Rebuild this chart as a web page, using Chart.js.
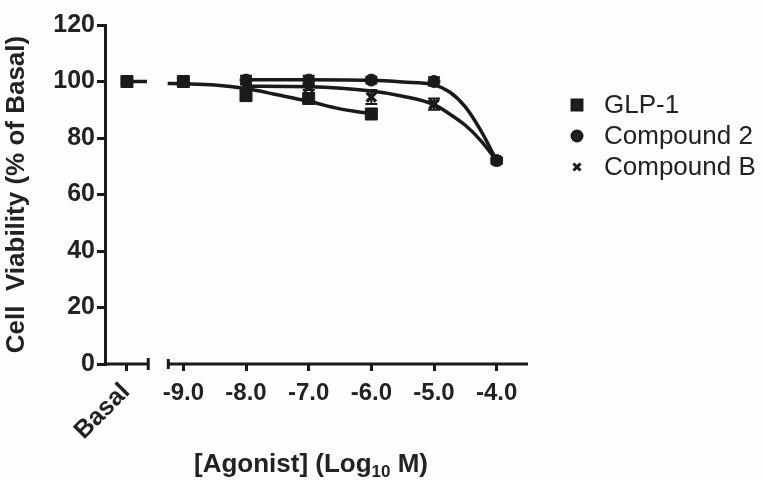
<!DOCTYPE html>
<html>
<head>
<meta charset="utf-8">
<script src="https://cdn.jsdelivr.net/npm/chart.js@4.4.1/dist/chart.umd.min.js"></script>
<style>
  body { margin: 0; background: #fdfdfd; }
  #wrap { width: 762px; height: 481px; }
</style>
</head>
<body>
<div id="wrap"><canvas id="myChart" width="762" height="481"></canvas></div>
<script>
// x positions (log10 M); basal is drawn left of the axis break
var basalX = -9.9;
var xTicks = [basalX, -9, -8, -7, -6, -5, -4];
var seriesNames = ['GLP-1', 'Compound 2', 'Compound B'];

// measured points
var glpX = [basalX, -9, -8, -7, -6];
var glpY = [100, 100, 95, 94, 88.5];
var glpErr = [0.8, 1, 1.5, 1.2, 1.5];
var cmpX = [-8, -7, -6, -5, -4];
var cmp2Y = [100.5, 100.5, 100.5, 100, 72];
var cmp2Err = [1.5, 1.5, 1.2, 1.5, 1];
var cmpBY = [98, 98, 94.5, 92, 72];
var cmpBErr = [1, 1, 2.5, 2, 1];

// fitted curves
var basalLineX = [basalX, -9.58];
var basalLineY = [100, 100];
var glpFitX = [-9.25, -9, -8.5, -8, -7.5, -7, -6.5, -6];
var glpFitY = [99.3, 99.2, 98.8, 97.5, 95.3, 93, 90.3, 88.6];
var cmpFitX = [-8, -7, -6, -5.5, -5, -4.75, -4.5, -4.25, -4];
var cmp2FitY = [100.6, 100.6, 100.4, 99.8, 98.8, 96.3, 91, 82.5, 72];
var cmpBFitY = [98.3, 98.1, 96.6, 94.8, 91.8, 88.5, 84.5, 79, 72];

var ink = '#1a1a1a';
var fam = "'Liberation Sans', Arial, sans-serif";

function pts(xs, ys) {
  return xs.map(function(x, i) { return { x: x, y: ys[i] }; });
}

function fitSet(xs, ys) {
  return {
    type: 'line', data: pts(xs, ys), borderColor: ink, borderWidth: 3.5,
    pointRadius: 0, cubicInterpolationMode: 'monotone', fill: false, order: 2
  };
}

function markSet(label, xs, ys, errs, style, r) {
  return {
    type: 'scatter', label: label, data: pts(xs, ys), errorBars: errs,
    pointStyle: style, pointRadius: r, borderColor: ink, backgroundColor: ink,
    borderWidth: style === 'crossRot' ? 3.5 : 1, showLine: false, order: 1
  };
}

var datasets = [
  fitSet(basalLineX, basalLineY),
  fitSet(glpFitX, glpFitY),
  fitSet(cmpFitX, cmp2FitY),
  fitSet(cmpFitX, cmpBFitY),
  markSet(seriesNames[0], glpX, glpY, glpErr, 'rect', 8.5),
  markSet(seriesNames[1], cmpX, cmp2Y, cmp2Err, 'circle', 6),
  markSet(seriesNames[2], cmpX, cmpBY, cmpBErr, 'crossRot', 6.5)
];

// error bars with small caps
var errorPlugin = {
  id: 'errorBars',
  afterDatasetsDraw: function(chart) {
    var ctx = chart.ctx, ys = chart.scales.y;
    chart.data.datasets.forEach(function(ds, di) {
      if (!ds.errorBars) return;
      var meta = chart.getDatasetMeta(di);
      ctx.save();
      ctx.strokeStyle = ink;
      ctx.lineWidth = 2;
      meta.data.forEach(function(el, i) {
        var v = ds.data[i].y, e = ds.errorBars[i];
        var top = ys.getPixelForValue(v + e), bot = ys.getPixelForValue(v - e);
        ctx.beginPath();
        ctx.moveTo(el.x, top); ctx.lineTo(el.x, bot);
        ctx.moveTo(el.x - 6, top); ctx.lineTo(el.x + 6, top);
        ctx.moveTo(el.x - 6, bot); ctx.lineTo(el.x + 6, bot);
        ctx.stroke();
      });
      ctx.restore();
    });
  }
};

// broken x axis, basal label, x title with subscript, legend
var decorPlugin = {
  id: 'decor',
  afterDraw: function(chart) {
    var ctx = chart.ctx, xs = chart.scales.x, a = chart.chartArea;
    var y0 = a.bottom;
    var cut1 = xs.getPixelForValue(-9.56), cut2 = xs.getPixelForValue(-9.24);
    ctx.save();
    ctx.strokeStyle = ink;
    ctx.lineWidth = 3;
    ctx.beginPath();
    ctx.moveTo(a.left, y0); ctx.lineTo(cut1, y0);
    ctx.moveTo(cut1, y0 - 6); ctx.lineTo(cut1, y0 + 6);
    ctx.moveTo(cut2, y0); ctx.lineTo(a.right, y0);
    ctx.moveTo(cut2, y0 - 5); ctx.lineTo(cut2, y0 + 5);
    ctx.stroke();

    ctx.fillStyle = '#222';
    // Basal tick label, rotated
    ctx.save();
    ctx.translate(xs.getPixelForValue(basalX) - 1, y0 + 24);
    ctx.rotate(-Math.PI / 4);
    ctx.font = 'bold 25px ' + fam;
    ctx.textAlign = 'right';
    ctx.textBaseline = 'middle';
    ctx.fillText('Basal', 0, 0);
    ctx.restore();

    // x axis title: [Agonist] (Log10 M)
    var big = 'bold 26px ' + fam, small = 'bold 17px ' + fam;
    var p1 = '[Agonist] (Log', p2 = '10', p3 = ' M)';
    ctx.font = big; var w1 = ctx.measureText(p1).width, w3 = ctx.measureText(p3).width;
    ctx.font = small; var w2 = ctx.measureText(p2).width;
    var tx = 311 - (w1 + w2 + w3) / 2, ty = 472;
    ctx.textAlign = 'left';
    ctx.textBaseline = 'alphabetic';
    ctx.font = big; ctx.fillText(p1, tx, ty);
    ctx.font = small; ctx.fillText(p2, tx + w1, ty + 5);
    ctx.font = big; ctx.fillText(p3, tx + w1 + w2, ty);

    // legend
    var lx = 577, ly = 105, step = 31;
    ctx.font = '26px ' + fam;
    ctx.textBaseline = 'middle';
    ctx.fillStyle = '#222';
    [4, 5, 6].forEach(function(di, k) {
      var ds = chart.data.datasets[di];
      var yy = ly + k * step;
      var r = ds.pointStyle === 'rect' ? 7 : 5;
      Chart.helpers.drawPoint(ctx, {
        pointStyle: ds.pointStyle, radius: r, borderWidth: ds.pointStyle === 'crossRot' ? 2.5 : 1, rotation: 0
      }, lx, yy);
      ctx.fillText(ds.label, lx + 27, yy + 1);
    });
    ctx.restore();
  }
};

var ctx = document.getElementById('myChart').getContext('2d');
var chart = new Chart(ctx, {
  data: { datasets: datasets },
  options: {
    responsive: false,
    animation: false,
    layout: { padding: { top: 25, right: 234, bottom: 0, left: 0 } },
    plugins: { legend: { display: false }, tooltip: { enabled: false } },
    scales: {
      x: {
        type: 'linear', min: -10.25, max: -3.5,
        afterBuildTicks: function(s) { s.ticks = xTicks.map(function(v) { return { value: v }; }); },
        afterFit: function(s) { s.height = 117; },
        ticks: {
          autoSkip: false, maxRotation: 0, padding: 8, color: '#222',
          font: { family: fam, size: 24, weight: 'bold' },
          callback: function(v) { return v === basalX ? '' : v.toFixed(1); }
        },
        grid: { drawOnChartArea: false, tickLength: 7, lineWidth: 3, color: ink },
        border: { display: false }
      },
      y: {
        min: 0, max: 120,
        afterFit: function(s) { s.width = 105; },
        ticks: { stepSize: 20, padding: 2, color: '#222', font: { family: fam, size: 25, weight: 'bold' } },
        grid: { drawOnChartArea: false, tickLength: 8, lineWidth: 3, color: ink },
        border: { display: true, width: 3, color: ink },
        title: {
          display: true, text: 'Cell  Viability (% of Basal)', color: '#222',
          font: { family: fam, size: 26, weight: 'bold' }, padding: { top: 1, bottom: 0 }
        }
      }
    }
  },
  plugins: [errorPlugin, decorPlugin]
});
</script>
</body>
</html>
